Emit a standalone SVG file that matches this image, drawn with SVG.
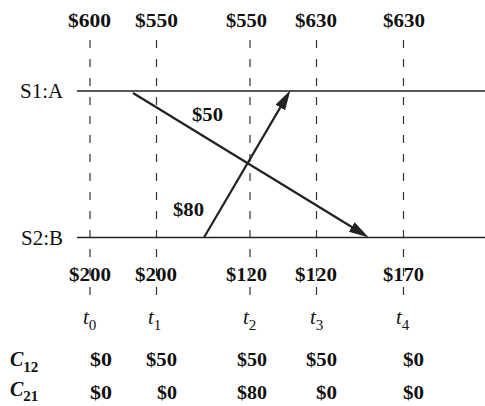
<svg xmlns="http://www.w3.org/2000/svg" width="485" height="406" viewBox="0 0 485 406">
<style>
.dash{stroke:#333;stroke-width:1.2;stroke-dasharray:8 11;fill:none}
.proc{stroke:#222;stroke-width:1.3;fill:none}
.msg{stroke:#222;stroke-width:2.2;fill:none}
.b{font-family:"Liberation Serif","Times New Roman",serif;font-weight:bold;font-size:19px;fill:#111}
.m{font-family:"Liberation Serif","Times New Roman",serif;font-weight:bold;font-size:19px;fill:#111}
.r{font-family:"Liberation Serif","Times New Roman",serif;font-size:21px;fill:#111}
.t{font-family:"Liberation Serif","Times New Roman",serif;font-style:italic;font-size:21px;fill:#111}
.ts{font-style:normal;font-size:15px}
.c{font-family:"Liberation Serif","Times New Roman",serif;font-style:italic;font-weight:bold;font-size:20px;fill:#111}
.cs{font-size:15px}
</style>
<defs>
<marker id="ah" markerUnits="userSpaceOnUse" markerWidth="20" markerHeight="12" viewBox="0 0 18 10" refX="10" refY="5" orient="auto">
<path d="M0,0 L18,5 L0,10 z" fill="#222"/>
</marker>
</defs>
<g id="timelines">
<line class="dash" x1="90" y1="40" x2="90" y2="297"/>
<line class="dash" x1="156.5" y1="40" x2="156.5" y2="297"/>
<line class="dash" x1="250" y1="40" x2="250" y2="297"/>
<line class="dash" x1="316.5" y1="40" x2="316.5" y2="297"/>
<line class="dash" x1="403.5" y1="40" x2="403.5" y2="297"/>
</g>
<g id="S1">
<line class="proc" x1="77" y1="91" x2="485" y2="91"/>
<text class="r" x="20" y="98">S1:A</text>
</g>
<g id="S2">
<line class="proc" x1="77" y1="237.5" x2="485" y2="237.5"/>
<text class="r" x="21" y="245">S2:B</text>
</g>
<g id="connectors">
<line class="msg" x1="133" y1="93" x2="361.2" y2="232.8" marker-end="url(#ah)"/>
<line class="msg" x1="204" y1="237.5" x2="285.9" y2="97.9" marker-end="url(#ah)"/>
<text class="m" x="192" y="121" textLength="31" lengthAdjust="spacingAndGlyphs">$50</text>
<text class="m" x="173" y="216" textLength="31" lengthAdjust="spacingAndGlyphs">$80</text>
</g>
<g id="top-values">
<text class="b" x="68" y="27" textLength="43" lengthAdjust="spacingAndGlyphs">$600</text>
<text class="b" x="135" y="27" textLength="43" lengthAdjust="spacingAndGlyphs">$550</text>
<text class="b" x="226" y="27" textLength="41" lengthAdjust="spacingAndGlyphs">$550</text>
<text class="b" x="295" y="27" textLength="42" lengthAdjust="spacingAndGlyphs">$630</text>
<text class="b" x="383" y="27" textLength="42" lengthAdjust="spacingAndGlyphs">$630</text>
</g>
<g id="bottom-values">
<text class="b" x="69" y="281" textLength="42" lengthAdjust="spacingAndGlyphs">$200</text>
<text class="b" x="135" y="281" textLength="42" lengthAdjust="spacingAndGlyphs">$200</text>
<text class="b" x="226" y="281" textLength="41" lengthAdjust="spacingAndGlyphs">$120</text>
<text class="b" x="295" y="281" textLength="42" lengthAdjust="spacingAndGlyphs">$120</text>
<text class="b" x="383" y="281" textLength="41" lengthAdjust="spacingAndGlyphs">$170</text>
</g>
<g id="times">
<text class="t" x="83" y="324">t<tspan class="ts" dy="6">0</tspan></text>
<text class="t" x="148" y="324">t<tspan class="ts" dy="6">1</tspan></text>
<text class="t" x="243" y="324">t<tspan class="ts" dy="6">2</tspan></text>
<text class="t" x="310" y="324">t<tspan class="ts" dy="6">3</tspan></text>
<text class="t" x="396" y="324">t<tspan class="ts" dy="6">4</tspan></text>
</g>
<g id="C12">
<text class="c" x="10" y="366">C<tspan class="cs" dy="6" font-style="normal">12</tspan></text>
<text class="b" x="90" y="366" textLength="22" lengthAdjust="spacingAndGlyphs">$0</text>
<text class="b" x="146" y="366" textLength="31" lengthAdjust="spacingAndGlyphs">$50</text>
<text class="b" x="237" y="366" textLength="30" lengthAdjust="spacingAndGlyphs">$50</text>
<text class="b" x="306" y="366" textLength="31" lengthAdjust="spacingAndGlyphs">$50</text>
<text class="b" x="403" y="366" textLength="21" lengthAdjust="spacingAndGlyphs">$0</text>
</g>
<g id="C21">
<text class="c" x="10" y="396">C<tspan class="cs" dy="5" font-style="normal">21</tspan></text>
<text class="b" x="90" y="399" textLength="22" lengthAdjust="spacingAndGlyphs">$0</text>
<text class="b" x="157" y="399" textLength="20" lengthAdjust="spacingAndGlyphs">$0</text>
<text class="b" x="237" y="399" textLength="30" lengthAdjust="spacingAndGlyphs">$80</text>
<text class="b" x="316" y="399" textLength="21" lengthAdjust="spacingAndGlyphs">$0</text>
<text class="b" x="403" y="399" textLength="21" lengthAdjust="spacingAndGlyphs">$0</text>
</g>
</svg>
